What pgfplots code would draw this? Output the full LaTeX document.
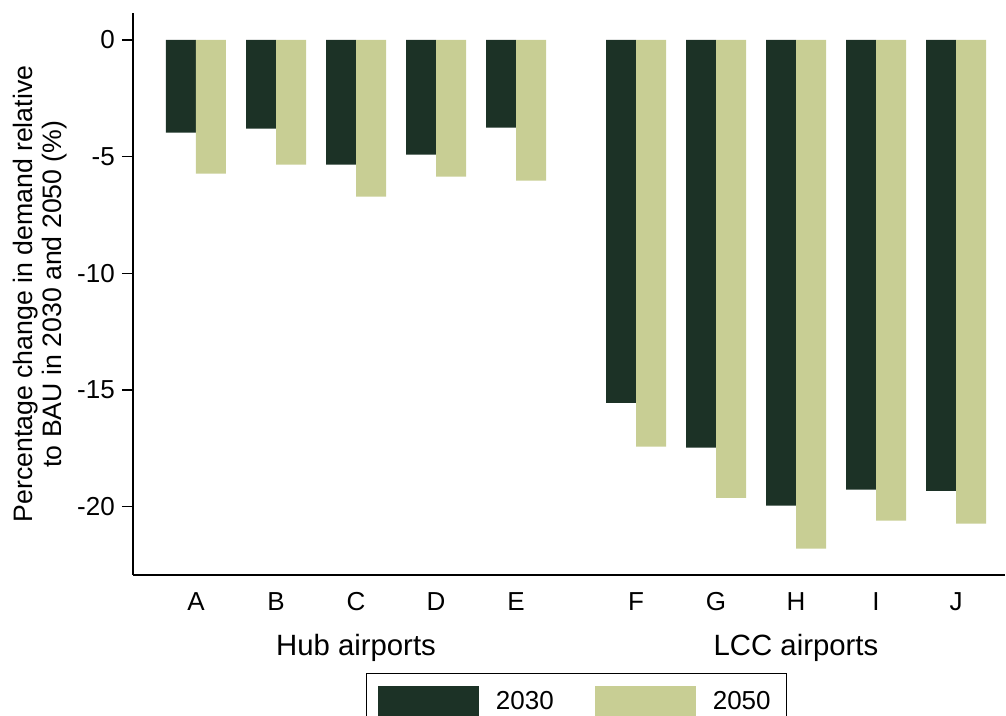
\documentclass[border=0pt]{standalone}
\usepackage{fontspec}
\setmainfont{Liberation Sans}
\usepackage{pgfplots}
\pgfplotsset{compat=1.18}
\definecolor{dk}{HTML}{1C3226}
\definecolor{lt}{HTML}{C8CE94}
\begin{document}
\begin{tikzpicture}
\useasboundingbox (-99.75pt,-105.75pt) rectangle (654.75pt,431.25pt);
\begin{axis}[
  at={(0pt,0pt)}, anchor=south west,
  width=654pt, height=421.5pt, scale only axis,
  xmin=-0.7875, xmax=10.1125,
  ymin=-22.93, ymax=1.157,
  clip=false,
  ybar,
  bar width=0.375,
  axis x line=bottom, axis y line=left,
  axis line style={-, line width=1.2pt, black},
  xtick={0,1,2,3,4,5.5,6.5,7.5,8.5,9.5},
  xticklabels={A,B,C,D,E,F,G,H,I,J},
  x tick style={draw=none},
  ytick={-20,-15,-10,-5,0},
  y tick style={line width=1.2pt, black},
  tick align=outside,
  major tick length=8.25pt,
  /pgf/number format/assume math mode=true,
  tick label style={font=\fontsize{19.5}{22}\selectfont},
  xticklabel style={inner sep=0pt, anchor=north, text height=14pt, text depth=0pt, yshift=-4.3pt},
  yticklabel style={inner sep=0pt, anchor=east, xshift=-5.25pt},
  ylabel={Percentage change in demand relative\\to BAU in 2030 and 2050 (\%)},
  ylabel style={at={([xshift=-49.1pt]axis description cs:0,0.5)}, anchor=south, align=center, inner sep=0pt, font=\fontsize{20}{21.75}\selectfont},
  legend columns=2,
  legend style={at={(0.2672,-0.1744)}, anchor=north west, draw=black, line width=0.9pt,
    inner xsep=8.8pt, inner ysep=9pt, font=\fontsize{19.5}{22}\selectfont,
    nodes={inner sep=0pt},
    /tikz/every odd column/.append style={column sep=12.5pt},
    /tikz/every even column/.append style={column sep=31pt}},
  legend image code/.code={\fill[#1] (0pt,-12pt) rectangle (75.75pt,12pt);},
]
\addplot[fill=dk, draw=none, bar shift=-0.1875] coordinates {
  (0,-3.97) (1,-3.80) (2,-5.34) (3,-4.91) (4,-3.76)
  (5.5,-15.55) (6.5,-17.47) (7.5,-19.96) (8.5,-19.27) (9.5,-19.32)};
\addlegendentry{2030}
\addplot[fill=lt, draw=none, bar shift=0.1875] coordinates {
  (0,-5.73) (1,-5.34) (2,-6.71) (3,-5.86) (4,-6.03)
  (5.5,-17.43) (6.5,-19.62) (7.5,-21.80) (8.5,-20.60) (9.5,-20.73)};
\addlegendentry{2050\hspace*{3pt}}
\node[font=\fontsize{22}{26}\selectfont, anchor=base, yshift=-60pt] at (axis cs:2,-22.93) {Hub airports};
\node[font=\fontsize{22}{26}\selectfont, anchor=base, yshift=-60pt] at (axis cs:7.5,-22.93) {LCC airports};
\end{axis}
\end{tikzpicture}
\end{document}
